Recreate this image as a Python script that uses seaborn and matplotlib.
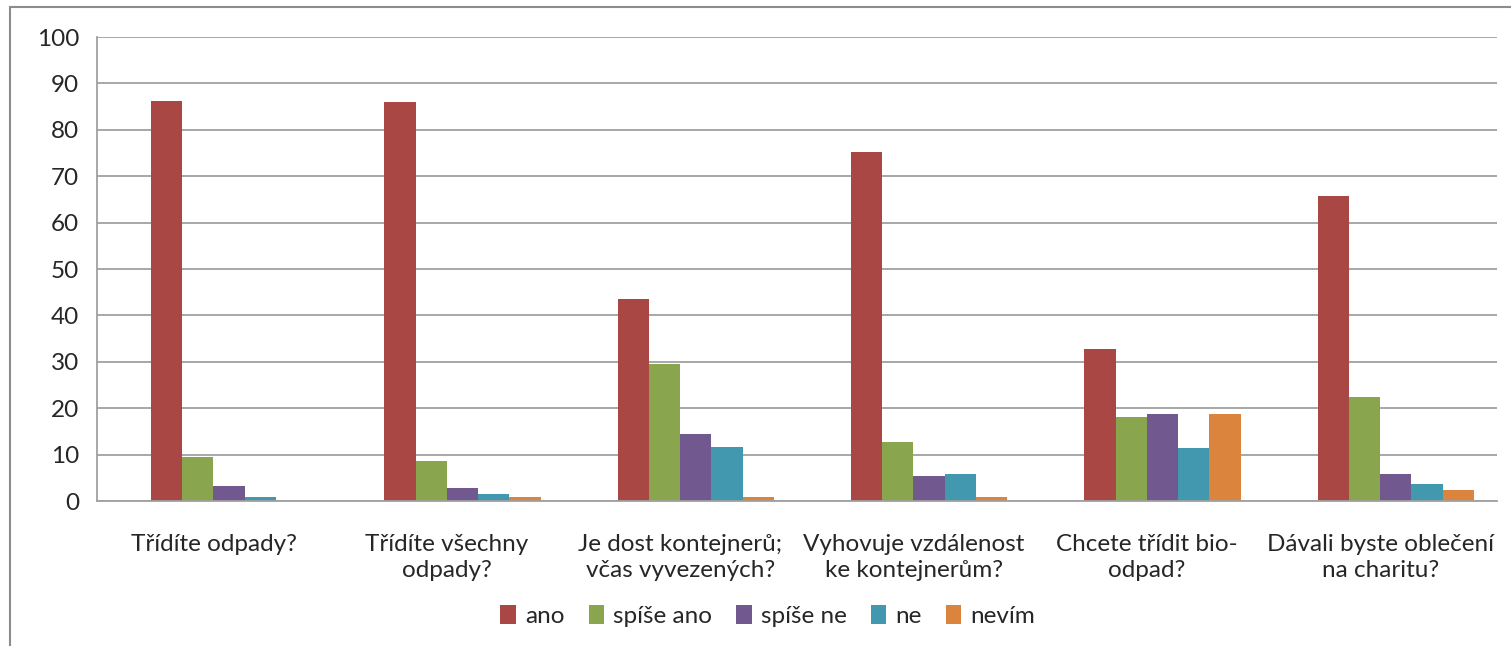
import pandas as pd
import matplotlib.pyplot as plt
import seaborn as sns
import numpy as np
from matplotlib.patches import Rectangle

# Data
questions = [
    "Třídíte odpady?",
    "Třídíte všechny\nodpady?",
    "Je dost kontejnerů;\nvčas vyvezených?",
    "Vyhovuje vzdálenost\nke kontejnerům?",
    "Chcete třídit bio-\nodpad?",
    "Dávali byste oblečení\nna charitu?",
]
answers = ["ano", "spíše ano", "spíše ne", "ne", "nevím"]
ano = [86.2, 86.0, 43.5, 75.2, 32.8, 65.7]
spise_ano = [9.5, 8.6, 29.5, 12.7, 18.1, 22.4]
spise_ne = [3.2, 2.8, 14.4, 5.4, 18.75, 5.8]
ne = [0.9, 1.5, 11.6, 5.8, 11.4, 3.7]
nevim = [0.0, 0.9, 0.9, 0.9, 18.75, 2.4]
colors = ["#A94744", "#89A54E", "#71588F", "#4298AF", "#DB843D"]

df = pd.DataFrame({"question": questions, "ano": ano, "spíše ano": spise_ano,
                   "spíše ne": spise_ne, "ne": ne, "nevím": nevim})
long = df.melt(id_vars="question", var_name="answer", value_name="value")

sns.set_style("white")
plt.rcParams["font.family"] = ["Lato", "DejaVu Sans"]
fs = 17.5

fig = plt.figure(figsize=(15.11, 6.46), dpi=100)
ax = fig.add_axes([97 / 1511, 145 / 646, 1400 / 1511, 464 / 646])

sns.barplot(data=long, x="question", y="value", hue="answer", hue_order=answers,
            order=questions, palette=colors, width=0.67, saturation=1,
            dodge=True, ax=ax, legend=True, linewidth=0)

# Excel places the clusters a bit right of the category centre
shift = 0.066
ax.set_xlim(-0.5 - shift, len(questions) - 0.5 - shift)
ax.set_ylim(0, 100)
ax.set_yticks(range(0, 101, 10))
ax.set_xticks(np.arange(len(questions)) - shift)
ax.set_xticklabels(questions, fontsize=fs, linespacing=1.3)
ax.set_xticks(np.arange(len(questions) + 1) - 0.5 - shift, minor=True)
ax.tick_params(axis="x", which="major", length=0, pad=24)
ax.tick_params(axis="x", which="minor", length=8, color="#A0A0A0", width=1.3)
ax.tick_params(axis="y", length=7, color="#A0A0A0", width=1.3, labelsize=fs, pad=6)
ax.yaxis.grid(True, color="#A0A0A0", linewidth=1.3)
ax.set_axisbelow(True)
for s in ["top", "right"]:
    ax.spines[s].set_visible(False)
for s in ["left", "bottom"]:
    ax.spines[s].set_color("#A0A0A0")
    ax.spines[s].set_linewidth(1.3)
ax.set_xlabel("")
ax.set_ylabel("")

ax.legend(loc="center", bbox_to_anchor=(0.479, -0.248), ncol=5, frameon=False,
          fontsize=fs, handlelength=0.65, handleheight=0.85, handletextpad=0.35,
          columnspacing=1.0)

fig.patches.append(Rectangle((10 / 1511, -0.01), 1.0, 1 - 7 / 646 + 0.01,
                             transform=fig.transFigure, fill=False,
                             edgecolor="#8C8C8C", linewidth=1.5))

fig.savefig("out.png", dpi=100)
